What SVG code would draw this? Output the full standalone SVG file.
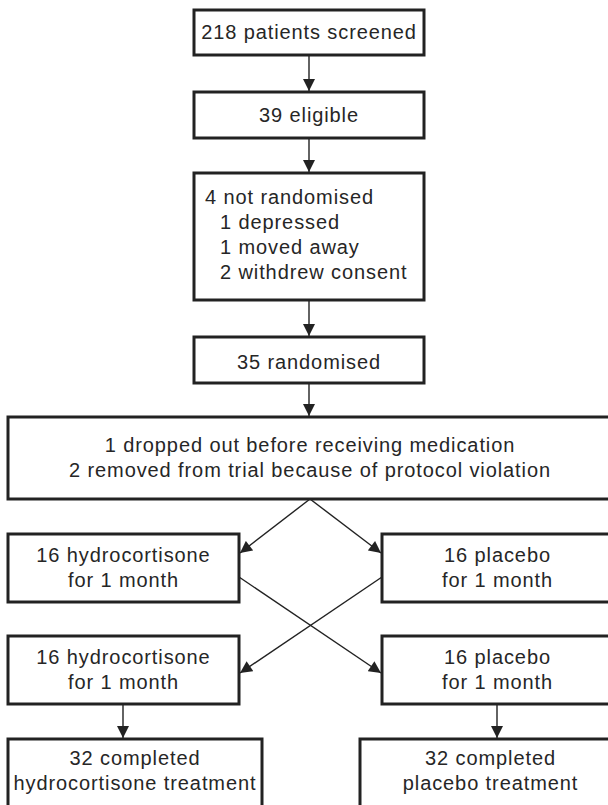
<svg xmlns="http://www.w3.org/2000/svg" width="608" height="805" viewBox="0 0 608 805">
<style>
.box{fill:#fff;stroke:#222;stroke-width:3}
.t{font-family:"Liberation Sans",Arial,sans-serif;font-size:20px;letter-spacing:0.9px;fill:#262626;text-anchor:middle}
.l{text-anchor:start}
.c{stroke:#222;stroke-width:1.4;fill:none;marker-end:url(#ah)}
</style>
<defs>
<marker id="ah" viewBox="0 0 10 10" refX="10" refY="5" markerWidth="13" markerHeight="12" markerUnits="userSpaceOnUse" orient="auto">
<path d="M0,0 L10,5 L0,10 z" fill="#222"/>
</marker>
</defs>
<rect width="608" height="805" fill="#fff"/>
<g id="connectors">
<line class="c" x1="309" y1="55" x2="309" y2="91"/>
<line class="c" x1="309" y1="138" x2="309" y2="172"/>
<line class="c" x1="309" y1="300" x2="309" y2="336"/>
<line class="c" x1="309" y1="383" x2="309" y2="416"/>
<line class="c" x1="310" y1="499" x2="240" y2="553"/>
<line class="c" x1="310" y1="499" x2="381" y2="553"/>
<line class="c" x1="239" y1="577" x2="381" y2="673"/>
<line class="c" x1="382" y1="577" x2="240" y2="673"/>
<line class="c" x1="123" y1="704" x2="123" y2="738"/>
<line class="c" x1="497" y1="704" x2="497" y2="738"/>
</g>
<g id="n1"><rect class="box" x="194" y="10" width="230" height="45"/><text class="t" x="309" y="39">218 patients screened</text></g>
<g id="n2"><rect class="box" x="194" y="92" width="230" height="46"/><text class="t" x="309" y="122">39 eligible</text></g>
<g id="n3"><rect class="box" x="194" y="173" width="230" height="127"/>
<text class="t l" x="205" y="204">4 not randomised</text>
<text class="t l" x="220" y="229">1 depressed</text>
<text class="t l" x="220" y="254">1 moved away</text>
<text class="t l" x="220" y="279">2 withdrew consent</text></g>
<g id="n4"><rect class="box" x="194" y="337" width="230" height="46"/><text class="t" x="309" y="369">35 randomised</text></g>
<g id="n5"><rect class="box" x="8" y="417" width="605" height="82"/>
<text class="t" x="310" y="452">1 dropped out before receiving medication</text>
<text class="t" x="310" y="477">2 removed from trial because of protocol violation</text></g>
<g id="n6"><rect class="box" x="8" y="534" width="231" height="68"/>
<text class="t" x="123.5" y="562">16 hydrocortisone</text><text class="t" x="123.5" y="587">for 1 month</text></g>
<g id="n7"><rect class="box" x="382" y="534" width="231" height="68"/>
<text class="t" x="497.5" y="562">16 placebo</text><text class="t" x="497.5" y="587">for 1 month</text></g>
<g id="n8"><rect class="box" x="8" y="636" width="231" height="68"/>
<text class="t" x="123.5" y="664">16 hydrocortisone</text><text class="t" x="123.5" y="689">for 1 month</text></g>
<g id="n9"><rect class="box" x="382" y="636" width="231" height="68"/>
<text class="t" x="497.5" y="664">16 placebo</text><text class="t" x="497.5" y="689">for 1 month</text></g>
<g id="n10"><rect class="box" x="8" y="739" width="254" height="80"/>
<text class="t" x="135" y="765">32 completed</text><text class="t" x="135" y="790">hydrocortisone treatment</text></g>
<g id="n11"><rect class="box" x="360" y="739" width="261" height="80"/>
<text class="t" x="490.5" y="765">32 completed</text><text class="t" x="490.5" y="790">placebo treatment</text></g>
</svg>
